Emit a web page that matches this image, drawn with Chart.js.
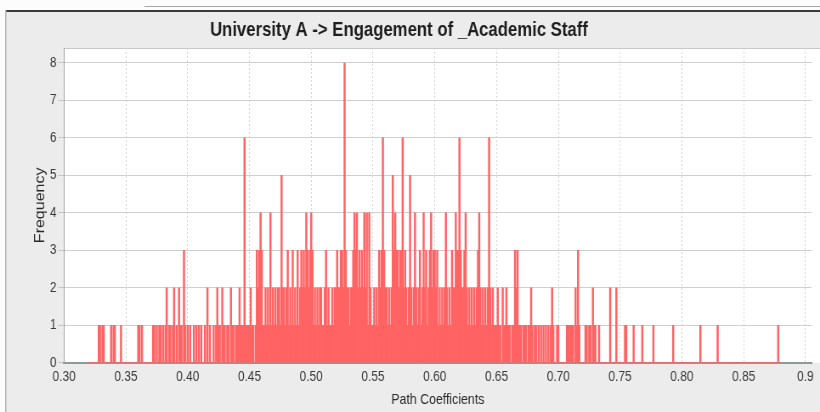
<!DOCTYPE html>
<html>
<head>
<meta charset="utf-8">
<script src="https://cdn.jsdelivr.net/npm/chart.js@4.4.0/dist/chart.umd.min.js"></script>
<style>
  html, body { margin: 0; padding: 0; background: #ffffff; overflow: hidden; width: 820px; height: 412px; }
  /* the source screenshot is squeezed horizontally, so draw wider and squeeze */
  #wrap { width: 965px; height: 412px; transform: scaleX(0.84974); transform-origin: 0 0; }
</style>
</head>
<body>
<div id="wrap"><canvas id="chart" width="965" height="412"></canvas></div>
<script>
// Histogram bins: one bin per 0.001 of path coefficient, starting at 0.320
const binStart = 0.320;
const binWidth = 0.001;

// Frequency per bin, one row per 0.01
const freq = [
  0,0,0,0,0,0,0,0,1,1, // 0.32
  0,1,1,0,0,0,0,0,1,0, // 0.33
  1,1,0,0,0,0,1,0,0,0, // 0.34
  0,0,0,0,0,0,0,0,0,0, // 0.35
  1,1,0,1,0,0,0,0,0,0, // 0.36
  0,0,1,1,0,1,0,1,1,0, // 0.37
  1,0,1,2,0,1,1,0,1,2, // 0.38
  0,1,0,2,1,1,0,3,1,0, // 0.39
  1,0,1,0,0,1,0,1,0,1, // 0.40
  0,1,0,0,1,0,2,0,1,0, // 0.41
  0,1,0,1,2,1,1,0,2,1, // 0.42
  1,0,1,1,0,2,1,1,0,1, // 0.43
  1,1,2,1,1,1,6,1,1,1, // 0.44
  1,2,1,1,0,1,3,2,3,4, // 0.45
  3,1,1,2,1,2,1,4,1,2, // 0.46
  1,2,1,2,2,1,5,2,2,1, // 0.47
  2,3,1,2,1,3,1,2,1,3, // 0.48
  1,2,3,2,3,2,4,3,2,3, // 0.49
  4,3,1,2,1,2,1,2,2,1, // 0.50
  1,2,3,1,2,1,1,2,1,2, // 0.51
  2,3,2,2,3,3,2,8,3,2, // 0.52
  2,1,2,2,3,4,3,4,2,3, // 0.53
  2,3,2,4,2,4,1,4,2,1, // 0.54
  1,2,1,2,1,3,2,3,6,3, // 0.55
  2,2,1,2,1,2,5,3,4,3, // 0.56
  3,2,3,3,6,2,3,2,1,2, // 0.57
  5,2,1,2,4,2,1,2,3,1, // 0.58
  2,4,2,3,1,2,3,4,2,3, // 0.59
  3,2,3,1,2,1,2,1,2,4, // 0.60
  2,1,2,1,3,2,2,4,3,3, // 0.61
  6,3,2,2,3,4,2,1,2,1, // 0.62
  2,1,2,1,2,3,4,2,1,2, // 0.63
  1,2,1,2,6,2,1,2,1,1, // 0.64
  1,2,1,1,0,2,1,1,2,1, // 0.65
  1,1,0,1,1,3,2,3,1,1, // 0.66
  1,0,1,1,1,0,1,1,2,1, // 0.67
  0,1,1,0,1,0,1,0,1,0, // 0.68
  1,0,1,0,1,2,1,0,0,1, // 0.69
  1,0,0,0,0,0,0,1,1,1, // 0.70
  1,1,1,0,2,1,3,1,0,0, // 0.71
  0,0,1,1,0,1,1,0,2,1, // 0.72
  1,0,0,1,0,0,0,0,0,0, // 0.73
  0,0,2,0,0,0,0,2,0,0, // 0.74
  0,0,0,0,1,1,0,0,0,0, // 0.75
  0,1,0,0,0,0,0,0,1,0, // 0.76
  0,0,0,0,0,0,0,1,0,0, // 0.77
  0,0,0,0,0,0,0,0,0,0, // 0.78
  0,0,0,1,0,0,0,0,0,0, // 0.79
  0,0,0,0,0,0,0,0,0,0, // 0.80
  0,0,0,0,0,1,0,0,0,0, // 0.81
  0,0,0,0,0,0,0,0,0,1, // 0.82
  0,0,0,0,0,0,0,0,0,0, // 0.83
  0,0,0,0,0,0,0,0,0,0, // 0.84
  0,0,0,0,0,0,0,0,0,0, // 0.85
  0,0,0,0,0,0,0,0,0,0, // 0.86
  0,0,0,0,0,0,0,0,1,0  // 0.87
];

const xTickLabels = ['0.30','0.35','0.40','0.45','0.50','0.55','0.60','0.65','0.70','0.75','0.80','0.85','0.9'];
const yTickLabels = ['0','1','2','3','4','5','6','7','8'];

const titleText = 'University A -> Engagement of _Academic Staff';
const SANS = "'Liberation Sans', Arial, sans-serif";

const points = freq.map((f, i) => ({ x: +(binStart + i * binWidth).toFixed(3), y: f }));

// grey window panel, white plot area and the title (canvas coords, before squeeze)
const panel = {
  id: 'panel',
  beforeDraw(chart) {
    const c = chart.ctx, a = chart.chartArea, w = chart.width, h = chart.height;
    c.save();
    c.fillStyle = '#fcfcfc';
    c.fillRect(0, 0, w, h);
    c.fillStyle = '#ececec';
    c.fillRect(7, 11, w - 7, h - 11);
    c.fillStyle = '#a8a8a8';
    c.fillRect(170, 6, w - 170, 1);
    c.fillStyle = '#3a3a3a';
    c.fillRect(6, 10, w - 6, 2);
    c.fillStyle = '#b4b4b4';
    c.fillRect(6, 10, 1.5, h - 10);
    c.fillStyle = '#ffffff';
    c.fillRect(a.left, a.top, w - a.left, a.bottom - a.top);
    c.fillStyle = '#c8c8c8';
    c.fillRect(a.left, a.top, w - a.left, 1);
    c.restore();
  },
  afterDraw(chart) {
    const c = chart.ctx;
    c.save();
    c.fillStyle = '#1e1e1e';
    c.font = 'bold 19.7px ' + SANS;
    c.textAlign = 'center';
    c.textBaseline = 'middle';
    c.fillText(titleText, 469.5, 31);
    c.restore();
  }
};

const ctx = document.getElementById('chart').getContext('2d');

const chart = new Chart(ctx, {
  type: 'bar',
  data: {
    datasets: [{
      data: points,
      backgroundColor: '#ff6363',
      borderWidth: 0,
      barThickness: 1.8
    }]
  },
  options: {
    responsive: false,
    animation: false,
    layout: { padding: { top: 48, left: 33.5, right: 0, bottom: 0 } },
    plugins: {
      legend: { display: false },
      tooltip: { enabled: false },
      title: { display: false }
    },
    scales: {
      x: {
        type: 'linear',
        min: 0.30,
        max: 0.905,
        offset: false,
        afterBuildTicks: (scale) => {
          scale.ticks = xTickLabels.map(t => ({ value: parseFloat(t) }));
        },
        ticks: {
          autoSkip: false,
          maxRotation: 0,
          padding: 7.5,
          color: '#3a3a3a',
          font: { family: SANS, size: 14, lineHeight: 1 },
          callback: (value, index) => xTickLabels[index]
        },
        grid: { offset: false, color: '#d6d6d6', drawTicks: false },
        border: { color: '#8c9a98', width: 2, dash: [2, 2] },
        title: {
          display: true,
          text: 'Path Coefficients',
          color: '#2a2a2a',
          font: { family: SANS, size: 14.5 },
          padding: { top: 0, bottom: 2.9 }
        }
      },
      y: {
        min: 0,
        max: 8.4,
        afterBuildTicks: (scale) => {
          scale.ticks = yTickLabels.map(t => ({ value: parseFloat(t) }));
        },
        ticks: {
          padding: 2,
          color: '#3a3a3a',
          font: { family: SANS, size: 14 },
          callback: (value, index) => yTickLabels[index]
        },
        grid: { color: '#cfcfcf', tickLength: 7, tickColor: '#c4c4c4' },
        border: { color: '#a4a4a4', width: 1 },
        title: {
          display: true,
          text: 'Frequency',
          color: '#2a2a2a',
          font: { family: SANS, size: 16 },
          padding: { top: 4, bottom: 0 }
        }
      }
    }
  },
  plugins: [panel]
});
</script>
</body>
</html>
